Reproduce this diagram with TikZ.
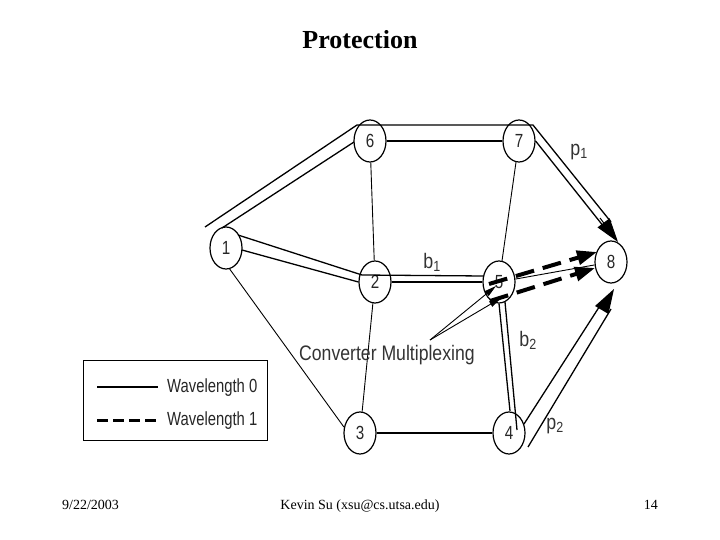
\documentclass[tikz,border=0pt]{standalone}
\usepackage{fontspec}
\usepackage{graphicx}
\setmainfont{Liberation Serif}
\setsansfont{Liberation Sans}
\usetikzlibrary{arrows.meta,shapes.geometric,calc}
\newcommand{\nx}[2]{\scalebox{#1}[1]{#2}}
\begin{document}
\begin{tikzpicture}[x=1pt,y=-1pt,
  nd/.style={draw, ellipse, line width=1.2pt, minimum width=32pt, minimum height=42pt, inner sep=0pt,
    font=\sffamily\fontsize{19}{19}\selectfont, text=black!85},
  thinln/.style={line width=0.9pt},
  dbl/.style={line width=1.3pt},
  wlone/.style={line width=4pt, dash pattern=on 19pt off 9pt},
  bighead/.style={-{Triangle[length=24pt,width=15pt]}},
  dashhead/.style={-{Triangle[length=20pt,width=14pt]}},
  smallhead/.style={-{Triangle[length=12pt,width=6pt]}},
  lbl/.style={font=\sffamily\fontsize{21}{21}\selectfont, text=black!80, inner sep=0pt},
  leg/.style={font=\sffamily\fontsize{19}{19}\selectfont, text=black!85, inner sep=0pt, anchor=base west},
  foot/.style={font=\fontsize{14}{14}\selectfont, inner sep=0pt},
]
\useasboundingbox (0,0) rectangle (720,540);

% title and footer
\node[font=\bfseries\fontsize{26}{26}\selectfont] (title) at (360,40) {Protection};
\node[foot, anchor=base west] (date) at (62,509) {9/22/2003};
\node[foot, anchor=base] (author) at (360,509) {Kevin Su (xsu@cs.utsa.edu)};
\node[foot, anchor=base east] (page) at (658,509) {14};

% nodes
\node[nd] (n1) at (226,248) {\nx{0.8}{1}};
\node[nd] (n6) at (370,141) {\nx{0.8}{6}};
\node[nd] (n7) at (519,141) {\nx{0.8}{7}};
\node[nd] (n2) at (375,282) {\nx{0.8}{2}};
\node[nd] (n5) at (499,282) {\nx{0.8}{5}};
\node[nd] (n8) at (611,262) {\nx{0.8}{8}};
\node[nd] (n3) at (360,433) {\nx{0.8}{3}};
\node[nd] (n4) at (509,433) {\nx{0.8}{4}};

% thin links (wavelength 0)
\draw[thinln] (n6) -- (n2);
\draw[thinln] (n7) -- (n5);
\draw[thinln] (n1.-80) -- (n3.160);
\draw[thinln] (n2) -- (n3);
\draw[line width=1.3pt] (n3) -- (n4);
\draw[thinln] (n5) -- (n8);

% primary path p1 : 1 - 6 - 7 - 8
\coordinate (p1s) at (205,227);
\coordinate (p1a) at (357,125);
\coordinate (p1b) at (533,125);
\coordinate (p1c) at (611,222);
\draw[dbl] (p1s) -- (p1a) -- (p1b) -- (p1c);
\draw[dbl] (222,228) -- (354,142);
\draw[dbl] (n6.east) -- (n7.west);
\draw[dbl] (n7.east) -- (604,227);
\draw[line width=1pt, bighead] (600,218) -- (618,242);

% backup path b1 : 1 - 2 - 5
\draw[dbl] (238,235) -- (362,275) -- (484,276);
\draw[dbl] (242,250) -- (n2.west);
\draw[dbl] (n2.east) -- (n5.west);

% backup path b2 : 5 - 4
\draw[dbl] (n5.south) -- (510,411);
\draw[dbl] (505,302) -- (517,430);

% primary path p2 : 4 - 8
\coordinate (p2tip) at (614,289);
\draw[dbl] (524,424) -- (603,301);
\draw[dbl] (528,447) -- (611,309);
\fill[line join=miter] (p2tip) -- (608.5,314) -- (595,306) -- cycle;

% wavelength 1 (converted) links 5 -> 8
\draw[wlone, dashhead] (489,284) -- (597,252);
\draw[wlone, dashhead] (490,301) -- (595,268);

% converter multiplexing pointers
\node[lbl, anchor=base west] (conv) at (299,360) {\nx{0.84}{Converter Multiplexing}};
\coordinate (cm) at (430,340);
\draw[thinln, smallhead] (cm) -- (496,286);
\draw[thinln, smallhead] (cm) -- (501,298);

% path labels
\node[lbl] (lp1) at (579,152) {\nx{0.85}{p\textsubscript{1}}};
\node[lbl] (lb1) at (432,262) {\nx{0.85}{b\textsubscript{1}}};
\node[lbl] (lb2) at (528,340) {\nx{0.85}{b\textsubscript{2}}};
\node[lbl] (lp2) at (555,426) {\nx{0.85}{p\textsubscript{2}}};

% legend
\node[draw, line width=1.3pt, minimum width=184pt, minimum height=80pt, anchor=north west, inner sep=0pt] (legend) at (83,360) {};
\coordinate (l0a) at (97,387);
\coordinate (l0b) at (158,387);
\coordinate (l1a) at (97,420);
\coordinate (l1b) at (158,420);
\draw[line width=1.2pt] (l0a) -- (l0b);
\draw[line width=3pt, dash pattern=on 11pt off 5pt] (l1a) -- (l1b);
\node[leg] (w0) at (167,392) {\nx{0.78}{Wavelength 0}};
\node[leg] (w1) at (167,425) {\nx{0.78}{Wavelength 1}};
\end{tikzpicture}
\end{document}
